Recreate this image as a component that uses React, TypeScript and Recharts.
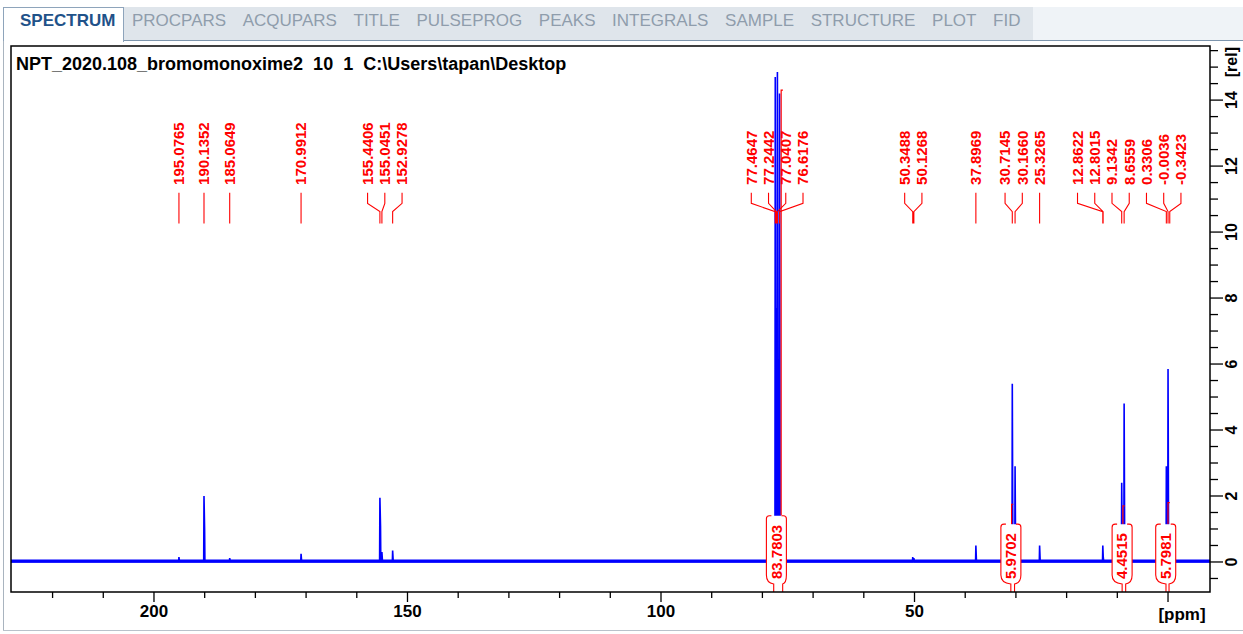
import React from 'react';
import { ComposedChart, Line, XAxis, YAxis, ReferenceArea, Scatter } from 'recharts';

// ---------- data ----------
const tabNames = ['SPECTRUM', 'PROCPARS', 'ACQUPARS', 'TITLE', 'PULSEPROG', 'PEAKS', 'INTEGRALS', 'SAMPLE', 'STRUCTURE', 'PLOT', 'FID'];
const spectrumTitle = 'NPT_2020.108_bromomonoxime2  10  1  C:\\Users\\tapan\\Desktop';

const xTicks = [220, 210, 200, 190, 180, 170, 160, 150, 140, 130, 120, 110, 100, 90, 80, 70, 60, 50, 40, 30, 20, 10, 0];
const xLabelled = [200, 150, 100, 50];
const yTicks = [-0.5, 0, 0.5, 1, 1.5, 2, 2.5, 3, 3.5, 4, 4.5, 5, 5.5, 6, 6.5, 7, 7.5, 8, 8.5, 9, 9.5, 10, 10.5, 11, 11.5, 12, 12.5, 13, 13.5, 14, 14.5, 15, 15.5];
const yLabelled = [0, 2, 4, 6, 8, 10, 12, 14];

const peakPpm = [195.0765, 190.1352, 185.0649, 170.9912, 155.4406, 155.0451, 152.9278, 77.4647, 77.2442, 77.0407, 76.6176, 50.3488, 50.1268, 37.8969, 30.7145, 30.166, 25.3265, 12.8622, 12.8015, 9.1342, 8.6559, 0.3306, -0.0036, -0.3423];
const peakHeight = [0.15, 2.0, 0.12, 0.25, 1.95, 0.3, 0.35, 14.7, 7.7, 14.85, 14.2, 0.15, 0.12, 0.5, 5.4, 2.9, 0.5, 0.5, 0.2, 2.4, 4.8, 2.9, 5.85, 1.0];
const peakShoulder = [0, 1.0, 0, 0, 1.1, 0, 0, 0, 0, 0, 0, 0, 0, 0, 0, 0, 0, 0, 0, 0, 0, 0, 0, 0];

const integralFrom = [77.77, 31.0, 9.05, 0.4];
const integralTo = [76.0, 30.27, 8.35, -0.2];
const integralValue = ['83.7803', '5.9702', '4.4515', '5.7981'];
const integralTraceAt = [76.3, 30.85, 8.9, 0.0];
const integralLow = [1.42, 1.14, 1.14, 1.14];
const integralHigh = [14.3, 1.75, 1.7, 1.8];

// ---------- layout constants ----------
const X_LEFT = 228.2;
const X_RIGHT = -8.28;
const Y_MIN = -0.91;
const Y_MAX = 15.64;
const LABEL_GAP_PPM = 3.4;
const LABEL_MIN_PPM = -2.55;
const LBL_TEXT = 11.43;
const LBL_TOP = 11.19;
const LBL_KINK = 10.87;
const LBL_DIAG = 10.62;
const LBL_END = 10.26;

const FONT = "'Liberation Sans', Arial, sans-serif";
const BLUE = '#0000ff';
const RED = '#ff0000';

// ---------- derived series ----------
const order = peakPpm.map((_, i) => i).sort((a, b) => peakPpm[b] - peakPpm[a]);

const spectrum: { ppm: number; v: number }[] = [{ ppm: X_LEFT, v: 0 }];
order.forEach((i) => {
  const p = peakPpm[i];
  spectrum.push({ ppm: p + 0.06, v: 0 }, { ppm: p, v: peakHeight[i] }, { ppm: p - 0.12, v: peakShoulder[i] }, { ppm: p - 0.18, v: 0 });
});
spectrum.push({ ppm: X_RIGHT, v: 0 });

const baseline = [{ ppm: X_LEFT, v: 0.03 }, { ppm: X_RIGHT, v: 0.03 }];

// spread labels apart (work in u = -ppm, left to right)
function spread(targets: number[], gap: number, uMax: number): number[] {
  type C = { n: number; sum: number; pos: number };
  const place = (c: C) => {
    c.pos = Math.min(c.sum / c.n - ((c.n - 1) * gap) / 2, uMax - (c.n - 1) * gap);
  };
  const cs: C[] = [];
  targets.forEach((t) => {
    let c: C = { n: 1, sum: t, pos: 0 };
    place(c);
    while (cs.length) {
      const p = cs[cs.length - 1];
      if (p.pos + p.n * gap > c.pos + 1e-9) {
        cs.pop();
        c = { n: p.n + c.n, sum: p.sum + c.sum, pos: 0 };
        place(c);
      } else break;
    }
    cs.push(c);
  });
  const out: number[] = [];
  cs.forEach((c) => {
    for (let k = 0; k < c.n; k++) out.push(c.pos + k * gap);
  });
  return out;
}

const sortedPeaks = order.map((i) => peakPpm[i]);
const labelPpm = spread(sortedPeaks.map((p) => -p), LABEL_GAP_PPM, -LABEL_MIN_PPM).map((u) => -u);

const labelPoints = sortedPeaks.map((p, k) => ({ ppm: labelPpm[k], v: LBL_TEXT, text: p.toFixed(4) }));

const leaders: { ppm: number; v: number | null }[] = [];
sortedPeaks.forEach((p, k) => {
  const lp = labelPpm[k];
  leaders.push({ ppm: lp, v: LBL_TOP }, { ppm: lp, v: LBL_KINK }, { ppm: p, v: LBL_DIAG }, { ppm: p, v: LBL_END }, { ppm: p, v: null });
});

const integralTraces = integralTraceAt.map((t, i) => [
  { ppm: t, v: integralLow[i] },
  { ppm: t, v: integralHigh[i] },
  { ppm: t - 0.35, v: integralHigh[i] },
]);

// ---------- renderers ----------
const XTick = (props: any) => {
  const { x, y, payload } = props;
  const v = payload.value;
  const major = v % 50 === 0;
  return (
    <g>
      <line x1={x} x2={x} y1={y} y2={y + (major ? 10 : 6)} stroke="#000" strokeWidth={1.3} />
      {v === 0 ? (
        <text x={x + 14} y={y + 28} textAnchor="middle" fontFamily={FONT} fontWeight="bold" fontSize={17} fill="#000">[ppm]</text>
      ) : xLabelled.includes(v) ? (
        <text x={x} y={y + 25} textAnchor="middle" fontFamily={FONT} fontWeight="bold" fontSize={17} fill="#000">{v}</text>
      ) : null}
    </g>
  );
};

const YTick = (props: any) => {
  const { x, y, payload } = props;
  const v = payload.value;
  const labelled = yLabelled.includes(v);
  const lx = x + 22;
  return (
    <g>
      <line x1={x} x2={x + (labelled ? 13 : 8)} y1={y} y2={y} stroke="#000" strokeWidth={1.3} />
      {labelled && (
        <text x={lx} y={y} transform={`rotate(-90 ${lx} ${y})`} dy="0.33em" textAnchor="middle" fontFamily={FONT} fontWeight="bold" fontSize={16} fill="#000">{v}</text>
      )}
      {v === 15 && (
        <text x={lx} y={y - 5} transform={`rotate(-90 ${lx} ${y - 5})`} dy="0.33em" textAnchor="middle" fontFamily={FONT} fontWeight="bold" fontSize={16} fill="#000">[rel]</text>
      )}
    </g>
  );
};

const PeakLabel = (props: any) => {
  const { cx, cy } = props;
  const text = props.payload?.text ?? props.text;
  return (
    <text x={cx} y={cy} transform={`rotate(-90 ${cx} ${cy})`} dy="0.36em" textAnchor="start" fontFamily={FONT} fontWeight="bold" fontSize={15} fill={RED}>{text}</text>
  );
};

const textLen = (s: string) => {
  let w = 0;
  for (const ch of s) w += ch === '.' ? 4.17 : 8.34;
  return w;
};

const makeBox = (label: string) => (props: any) => {
  const { x, y, width, height } = props;
  const xl = x;
  const xr = x + width;
  const yb = y + height;
  const cx = (xl + xr) / 2 - 1.8;
  const b1 = cx - 10;
  const b2 = cx + 10;
  const yt = yb - 13 - textLen(label) - 9;
  const ys = yb - 17;
  const fillPath = `M${xl},${yb} L${xl},${yb - 8} Q${b1},${yb - 9} ${b1},${ys} L${b1},${yt} L${b2},${yt} L${b2},${ys} Q${b2},${yb - 9} ${xr},${yb - 8} L${xr},${yb} Z`;
  const leftPath = `M${xl},${yb} L${xl},${yb - 8} Q${b1},${yb - 9} ${b1},${ys} L${b1},${yt + 3} Q${b1},${yt} ${b1 + 3},${yt} L${b1 + 5},${yt}`;
  const rightPath = `M${xr},${yb} L${xr},${yb - 8} Q${b2},${yb - 9} ${b2},${ys} L${b2},${yt + 3} Q${b2},${yt} ${b2 - 3},${yt} L${b2 - 5},${yt}`;
  const ty = yb - 13;
  return (
    <g>
      <path d={fillPath} fill="#fff" stroke="none" />
      <path d={leftPath} fill="none" stroke={RED} strokeWidth={1.1} />
      <path d={rightPath} fill="none" stroke={RED} strokeWidth={1.1} />
      <text x={cx} y={ty} transform={`rotate(-90 ${cx} ${ty})`} dy="0.36em" textAnchor="start" fontFamily={FONT} fontWeight="bold" fontSize={15} fill={RED}>{label}</text>
    </g>
  );
};

export default function App() {
  return (
    <div style={{ position: 'absolute', left: 0, top: 0, width: 1243, height: 634, background: '#fff', overflow: 'hidden', fontFamily: FONT }}>
      {/* tab bar */}
      <div style={{ position: 'absolute', left: 123, top: 7, width: 910, height: 33, background: '#dfe5eb' }} />
      <div style={{ position: 'absolute', left: 1033, top: 7, width: 210, height: 33, background: '#eff3f7' }} />
      <div style={{ position: 'absolute', left: 123, top: 40, width: 1120, height: 1, background: '#7d95ad' }} />
      <div style={{ position: 'absolute', left: 3, top: 7, width: 119, height: 34, background: '#fff', borderLeft: '1px solid #8ea4bb', borderTop: '1px solid #8ea4bb', borderRight: '1px solid #8ea4bb' }} />
      <div style={{ position: 'absolute', left: 3, top: 41, width: 1, height: 589, background: '#a9b4bf' }} />
      <div style={{ position: 'absolute', left: 3, top: 630, width: 1240, height: 1, background: '#b9c2cb' }} />
      <div style={{ position: 'absolute', left: 20, top: 9, height: 24, display: 'flex', alignItems: 'center', gap: 16.6, whiteSpace: 'pre' }}>
        {tabNames.map((t, i) => (
          <span key={t} style={{ fontSize: 17, fontWeight: i === 0 ? 'bold' : 'normal', color: i === 0 ? '#1f5289' : '#8f9dac' }}>{t}</span>
        ))}
      </div>
      <div style={{ position: 'absolute', left: 16, top: 55, fontSize: 18, lineHeight: '18px', fontWeight: 'bold', whiteSpace: 'pre', color: '#000' }}>{spectrumTitle}</div>

      <div style={{ position: 'absolute', left: 0, top: 0 }}>
        <ComposedChart width={1243} height={634} margin={{ top: 46, left: 11, right: 0, bottom: 0 }}>
          <XAxis
            dataKey="ppm"
            type="number"
            domain={[X_RIGHT, X_LEFT]}
            reversed
            allowDataOverflow
            ticks={xTicks}
            interval={0}
            height={42}
            tickSize={0}
            tickMargin={0}
            axisLine={false}
            tickLine={false}
            tick={<XTick />}
          />
          <YAxis
            dataKey="v"
            type="number"
            orientation="right"
            domain={[Y_MIN, Y_MAX]}
            allowDataOverflow
            ticks={yTicks}
            interval={0}
            width={33}
            tickSize={0}
            tickMargin={0}
            axisLine={false}
            tickLine={false}
            tick={<YTick />}
          />
          <Scatter data={labelPoints} dataKey="v" shape={<PeakLabel />} isAnimationActive={false} zIndex={350} />
          <Line data={baseline} dataKey="v" stroke={BLUE} strokeWidth={3} dot={false} activeDot={false} isAnimationActive={false} />
          <Line data={spectrum} dataKey="v" stroke={BLUE} strokeWidth={1.6} dot={false} activeDot={false} isAnimationActive={false} />
          <Line data={leaders} dataKey="v" stroke={RED} strokeWidth={1.1} dot={false} activeDot={false} connectNulls={false} isAnimationActive={false} />
          {integralTraces.map((tr, i) => (
            <Line key={'it' + i} data={tr} dataKey="v" stroke={RED} strokeWidth={1.2} dot={false} activeDot={false} isAnimationActive={false} />
          ))}
          {integralValue.map((lab, i) => (
            <ReferenceArea
              key={'ib' + i}
              x1={integralFrom[i]}
              x2={integralTo[i]}
              y1={Y_MIN}
              y2={0}
              ifOverflow="visible"
              shape={makeBox(lab)}
              zIndex={900}
            />
          ))}
          <ReferenceArea x1={X_LEFT} x2={X_RIGHT} y1={Y_MIN} y2={Y_MAX} ifOverflow="visible" fill="none" fillOpacity={0} stroke="#000" strokeWidth={1.5} zIndex={1000} />
        </ComposedChart>
      </div>
    </div>
  );
}
